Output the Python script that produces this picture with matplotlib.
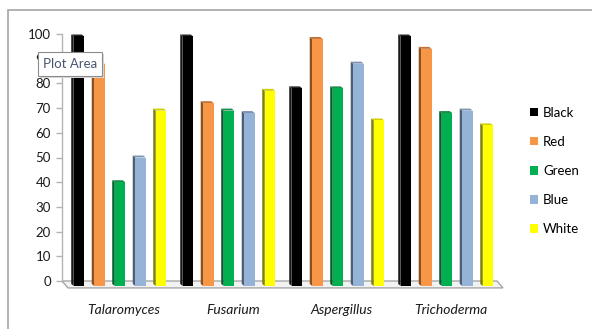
import matplotlib
matplotlib.use("Agg")
import matplotlib.pyplot as plt
from matplotlib.patches import Rectangle, Patch
import numpy as np

plt.rcParams['font.family'] = ['Lato', 'DejaVu Sans']

categories = ["Talaromyces", "Fusarium", "Aspergillus", "Trichoderma"]
series_names = ["Black", "Red", "Green", "Blue", "White"]
black = [99, 99, 78, 99]
red = [88, 72, 98, 94]
green = [40, 69, 78, 68]
blue = [50, 68, 88, 69]
white = [69, 77, 65, 63]
series_values = [black, red, green, blue, white]
yticks = list(range(0, 101, 10))

face_colors = ["#000000", "#F79646", "#00B050", "#95B3D7", "#FFFF00"]
side_colors = ["#1a1a1a", "#8a5020", "#00602c", "#4f5e75", "#80800a"]
top_colors = ["#262626", "#c2733a", "#1f8a4d", "#7d93b3", "#d0d000"]

W, H = 592, 329
fig = plt.figure(figsize=(W / 100, H / 100), dpi=100)

# outer chart frame
fig.patches.append(Rectangle((8 / W, -0.2), 1.1, 1.2 - 10 / H,
                             transform=fig.transFigure, fill=False,
                             edgecolor="#a6a6a6", lw=1.2, zorder=0))

px_per_unit = 2.47
y0_px, ytop_px = 281, 34
ylo = -3.0
ax_bottom_px = y0_px - ylo * px_per_unit
ax = fig.add_axes([62 / W, 1 - ax_bottom_px / H,
                   (497 - 62) / W, (ax_bottom_px - ytop_px) / H])

group_px = 109.0
xlim = (-0.532, 3.459)
ax.set_xlim(*xlim)
ax.set_ylim(ylo, 100)

# 3D floor
dx_floor = 6 / group_px
floor_depth = 2.8
ax.fill([xlim[0], xlim[1], xlim[1] + dx_floor, xlim[0] + dx_floor],
        [0, 0, -floor_depth, -floor_depth],
        facecolor="#f2f2f2", edgecolor="#a6a6a6", lw=1.0, clip_on=False, zorder=1)

step = 20.5 / group_px
bw = 10.5 / group_px
sx = 2.5 / group_px      # side depth in x
sy = 0.8                 # cap depth in y
base = -2.0
x = np.arange(len(categories))
for i, (vals, fc, sc, tc) in enumerate(zip(series_values, face_colors, side_colors, top_colors)):
    xs = x + (i - 2) * step
    for xc, v in zip(xs, vals):
        l = xc - bw / 2
        # left side face
        ax.fill([l - sx, l, l, l - sx], [base + sy, base, v, v + sy],
                facecolor=sc, edgecolor="none", clip_on=False, zorder=2)
        # top cap
        ax.fill([l - sx, l, l + bw, l + bw - sx], [v + sy, v, v, v + sy],
                facecolor=tc, edgecolor="none", clip_on=False, zorder=2)
    ax.bar(xs, [v - base for v in vals], bottom=base, width=bw,
           color=fc, edgecolor="none", zorder=3, clip_on=False)

for s in ["top", "right", "bottom"]:
    ax.spines[s].set_visible(False)
ax.spines["left"].set_bounds(0, 100)
ax.spines["left"].set_color("#b3b3b3")
ax.spines["left"].set_linewidth(1.0)

ax.set_yticks(yticks)
ax.set_yticklabels([str(t) for t in yticks])
ax.tick_params(axis="y", length=4, width=1.0, color="#b3b3b3", pad=4,
               labelsize=9.5, labelcolor="#1a1a1a")
ax.set_xticks(x + 4 / group_px)
ax.set_xticklabels(categories, style="italic", fontsize=10, color="#1a1a1a")
ax.tick_params(axis="x", length=0, pad=11)

handles = [Patch(facecolor=c, edgecolor="none") for c in face_colors]
fig.legend(handles, series_names, loc="center left",
           bbox_to_anchor=(530 / W, 1 - 171 / H), frameon=False,
           fontsize=9.5, handlelength=0.6, handleheight=0.6,
           handletextpad=0.4, labelspacing=1.3, borderpad=0, borderaxespad=0)

# "Plot Area" hover label
bx0, by0, bx1, by1 = 38, 52, 102, 76
fig.patches.append(Rectangle((bx0 / W + 0.003, 1 - by1 / H - 0.006),
                             (bx1 - bx0) / W, (by1 - by0) / H,
                             transform=fig.transFigure, facecolor="#d9d9d9",
                             edgecolor="none", zorder=9))
fig.patches.append(Rectangle((bx0 / W, 1 - by1 / H), (bx1 - bx0) / W, (by1 - by0) / H,
                             transform=fig.transFigure, facecolor="white",
                             edgecolor="#8c8c8c", lw=0.8, zorder=10))
fig.text((bx0 + bx1) / 2 / W, 1 - (by0 + by1) / 2 / H, "Plot Area",
         ha="center", va="center", fontsize=9.5, color="#4a5670", zorder=11)

fig.savefig("out.png", dpi=100)
